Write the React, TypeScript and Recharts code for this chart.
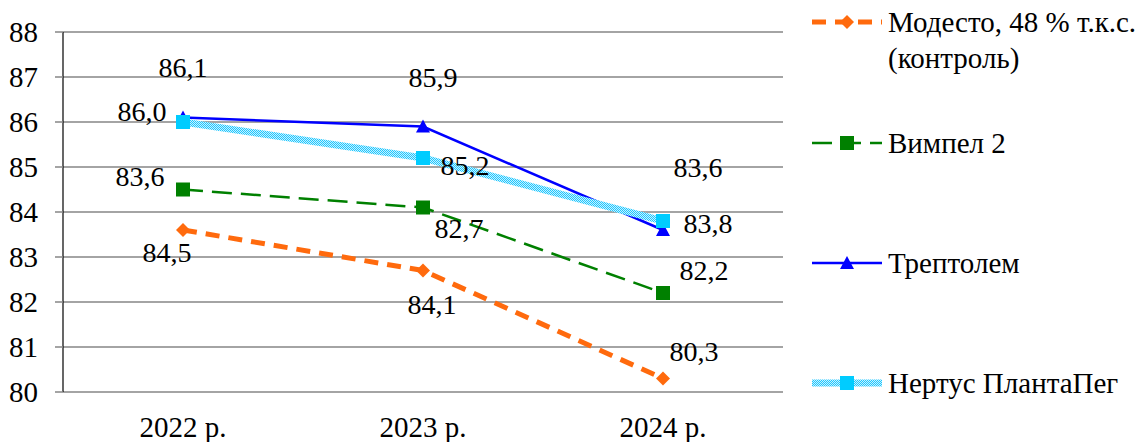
import React from 'react';
import { LineChart, Line, XAxis, YAxis, CartesianGrid, LabelList } from 'recharts';

const CATEGORIES = ['2022 р.', '2023 р.', '2024 р.'];
const MODESTO = [83.6, 82.7, 80.3];
const VYMPEL = [84.5, 84.1, 82.2];
const TREPTOLEM = [86.1, 85.9, 83.6];
const NERTUS = [86.0, 85.2, 83.8];
const Y_TICKS = [80, 81, 82, 83, 84, 85, 86, 87, 88];

const FONT = 'Times New Roman';
const GRID = '#868686';

type Marker = 'diamond' | 'square' | 'triangle';

interface SeriesDef {
    key: string;
    name: string;
    values: number[];
    stroke: string;
    fill: string;
    width: number;
    dash?: string;
    marker: Marker;
    // where each value label sits relative to its point (the source has them shuffled around)
    labelOffsets: [number, number][];
}

const SERIES: SeriesDef[] = [
    {
        key: 'modesto', name: 'Модесто, 48 % т.к.с.\n(контроль)', values: MODESTO,
        stroke: '#FF6A0D', fill: '#FF6A0D', width: 5, dash: '14 9', marker: 'diamond',
        labelOffsets: [[-43, -54], [36, -42], [31, -27]],
    },
    {
        key: 'vympel', name: 'Вимпел 2', values: VYMPEL,
        stroke: '#008000', fill: '#008000', width: 2.5, dash: '20 9', marker: 'square',
        labelOffsets: [[-16, 63], [9, 97], [41, -23]],
    },
    {
        key: 'treptolem', name: 'Трептолем', values: TREPTOLEM,
        stroke: '#0000FF', fill: '#0000FF', width: 2.5, marker: 'triangle',
        labelOffsets: [[0, -50], [10, -49], [35, -63]],
    },
    {
        key: 'nertus', name: 'Нертус ПлантаПег', values: NERTUS,
        stroke: 'url(#checker)', fill: '#00CCFF', width: 7, marker: 'square',
        labelOffsets: [[-41, -11], [42, 7], [45, 2]],
    },
];

const data = CATEGORIES.map((cat, i) => {
    const row: Record<string, any> = { cat };
    SERIES.forEach(s => { row[s.key] = s.values[i]; });
    return row;
});

const fmt = (v: number) => v.toFixed(1).replace('.', ',');

function MarkerShape({ cx, cy, type, fill }: { cx: number; cy: number; type: Marker; fill: string }) {
    if (type === 'diamond') {
        return <path d={`M${cx},${cy - 7} L${cx + 7},${cy} L${cx},${cy + 7} L${cx - 7},${cy} Z`} fill={fill} />;
    }
    if (type === 'triangle') {
        return <path d={`M${cx},${cy - 7} L${cx + 7},${cy + 6} L${cx - 7},${cy + 6} Z`} fill={fill} />;
    }
    return <rect x={cx - 7} y={cy - 7} width={14} height={14} fill={fill} />;
}

// legend rows: vertical centre of each icon
const LEGEND_Y = [22, 143, 263, 383];

function LegendBlock() {
    return (
        <>
            {SERIES.map((s, i) => (
                <React.Fragment key={s.key}>
                    <svg style={{ position: 'absolute', left: 810, top: LEGEND_Y[i] - 10 }} width={74} height={20}>
                        <line x1={2} y1={10} x2={72} y2={10}
                            stroke={s.stroke} strokeWidth={s.width} strokeDasharray={s.dash} />
                        <MarkerShape cx={37} cy={10} type={s.marker} fill={s.fill} />
                    </svg>
                    <div className="serif" style={{
                        position: 'absolute', left: 888, top: LEGEND_Y[i] - 18,
                        fontSize: 29, lineHeight: '36px', whiteSpace: 'pre', color: '#000',
                    }}>
                        {s.name}
                    </div>
                </React.Fragment>
            ))}
        </>
    );
}

export default function App() {
    return (
        <div className="serif" style={{ position: 'absolute', left: 0, top: 0, width: 1145, height: 442 }}>
            <style>{'.serif, .serif text, .serif tspan { font-family: "Times New Roman", "Liberation Serif", serif !important; }'}</style>
            <svg width={0} height={0} style={{ position: 'absolute' }}>
                <defs>
                    <pattern id="checker" width="2" height="2" patternUnits="userSpaceOnUse">
                        <rect x="0" y="0" width="2" height="2" fill="#C8F0FF" />
                        <rect x="0" y="0" width="1" height="1" fill="#1EC8FF" />
                        <rect x="1" y="1" width="1" height="1" fill="#1EC8FF" />
                    </pattern>
                </defs>
            </svg>
            <LineChart width={1145} height={442} data={data} margin={{ top: 32, right: 362, bottom: 0, left: 0 }}>
                <CartesianGrid vertical={false} stroke={GRID} strokeWidth={1.5} />
                <XAxis xAxisId="bnd" type="number" domain={[0, 3]} ticks={[1, 2]} tick={false}
                    tickSize={8} tickLine={{ stroke: '#555' }} axisLine={false} height={0} />
                <XAxis dataKey="cat" scale="band" tickLine={false} axisLine={false} tickSize={0} tickMargin={24} height={50}
                    tick={{ fill: '#000', fontSize: 29, fontFamily: FONT }} />
                <YAxis domain={[80, 88]} ticks={Y_TICKS} width={63} tickSize={8} tickMargin={17}
                    axisLine={{ stroke: '#000', strokeWidth: 1.2 }} tickLine={{ stroke: GRID, strokeWidth: 1.5 }}
                    tick={{ fill: '#000', fontSize: 29, fontFamily: FONT }} />
                {SERIES.map(s => (
                    <Line key={s.key} dataKey={s.key} name={s.name} stroke={s.stroke} strokeWidth={s.width}
                        strokeDasharray={s.dash} isAnimationActive={false}
                        dot={(p: any) => (
                            <MarkerShape key={`${s.key}-${p.index}`} cx={p.cx} cy={p.cy} type={s.marker} fill={s.fill} />
                        )}
                        activeDot={false}>
                        <LabelList dataKey={s.key} content={(p: any) => {
                            const [dx, dy] = s.labelOffsets[p.index] || [0, 0];
                            return (
                                <text x={p.x + dx} y={p.y + dy} textAnchor="middle" dominantBaseline="central"
                                    fontFamily={FONT} fontSize={28} fill="#000">
                                    {fmt(Number(p.value))}
                                </text>
                            );
                        }} />
                    </Line>
                ))}
            </LineChart>
            <LegendBlock />
        </div>
    );
}
